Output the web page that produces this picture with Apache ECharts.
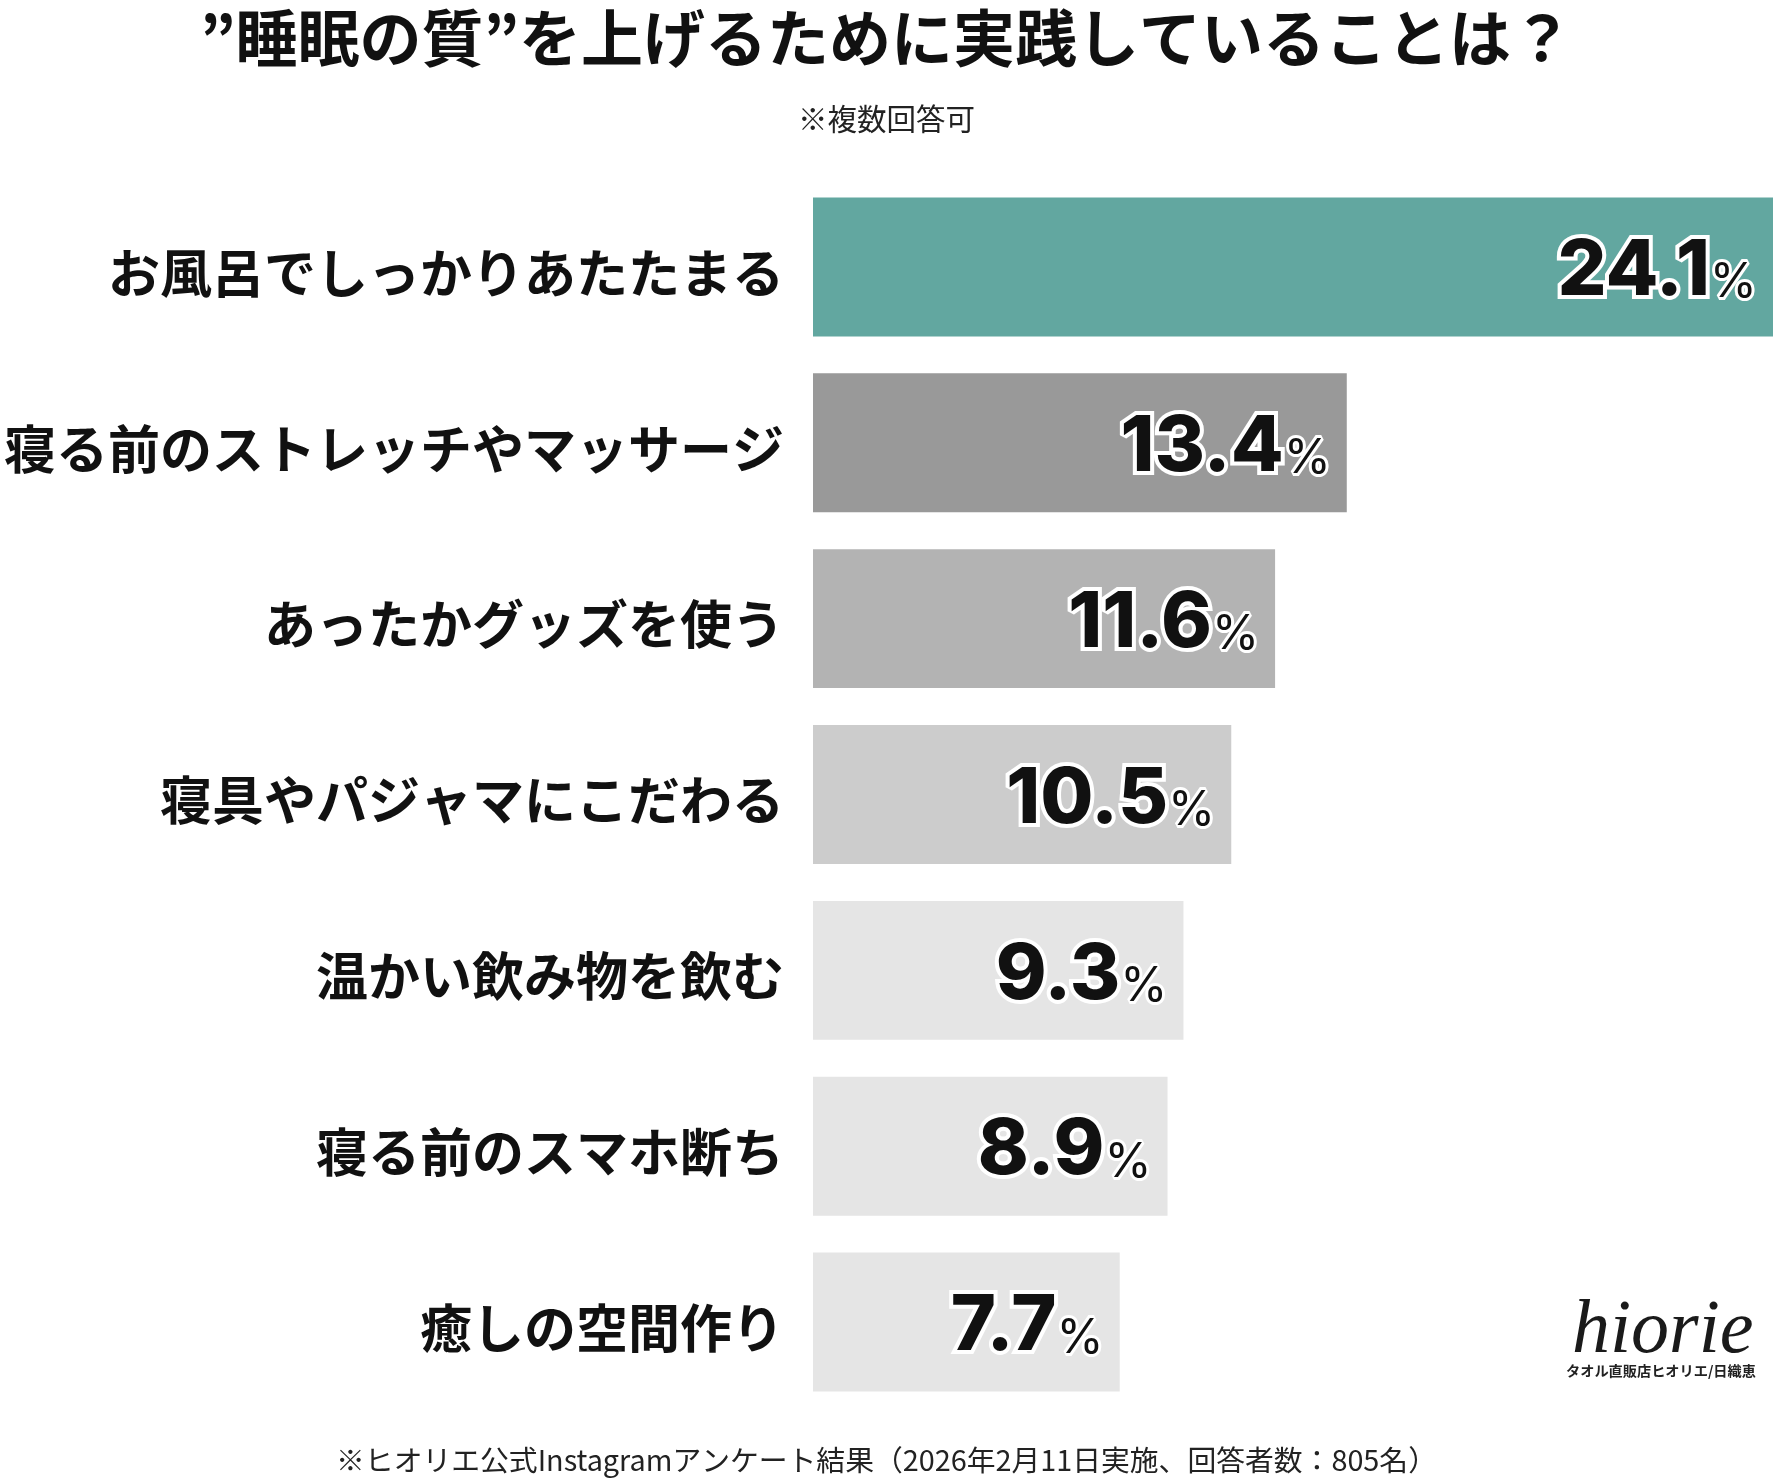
<!DOCTYPE html>
<html>
<head>
<meta charset="utf-8">
<script src="https://cdn.jsdelivr.net/npm/echarts@6/dist/echarts.min.js"></script>
<style>
html,body{margin:0;padding:0;background:#fff;}
#chart{width:1773px;height:1484px;}
</style>
</head>
<body>
<div id="chart"></div>
<script>
const categories = ['お風呂でしっかりあたたまる','寝る前のストレッチやマッサージ','あったかグッズを使う','寝具やパジャマにこだわる','温かい飲み物を飲む','寝る前のスマホ断ち','癒しの空間作り'];
const values = [24.1, 13.4, 11.6, 10.5, 9.3, 8.9, 7.7];
const barColors = ['#62a7a0','#999999','#b3b3b3','#cccccc','#e5e5e5','#e5e5e5','#e5e5e5'];
const titleText = '”睡眠の質”を上げるために実践していることは？';
const subText = '※複数回答可';
const footText = '※ヒオリエ公式Instagramアンケート結果（2026年2月11日実施、回答者数：805名）';

const JP = '"Noto Sans CJK JP", "Noto Sans", sans-serif';
const chart = echarts.init(document.getElementById('chart'), null, {renderer:'canvas'});
chart.setOption({
  backgroundColor:'#ffffff',
  animation:false,
  title:[
    {text:titleText, left:'center', top:2, textStyle:{fontFamily:JP, fontSize:62, fontWeight:'bold', color:'#111'}},
    {text:subText, left:'center', top:99, textStyle:{fontFamily:JP, fontSize:29.5, fontWeight:'normal', color:'#222'}},
    {text:footText, left:'center', top:1441, textStyle:{fontFamily:JP, fontSize:28.8, fontWeight:'normal', color:'#222'}}
  ],
  grid:{left:813, right:0, top:179, height:1231, containLabel:false},
  xAxis:{type:'value', min:0, max:24.1, show:false},
  yAxis:{type:'category', data:categories, inverse:true,
    axisLine:{show:false}, axisTick:{show:false}, splitLine:{show:false},
    axisLabel:{margin:29, formatter: v => '{a|' + v + '}',
      rich:{a:{fontFamily:JP, fontSize:52, fontWeight:'bold', color:'#111', lineHeight:60, padding:[12,0,0,0]}}}},
  series:[{
    type:'bar', barCategoryGap:'21%',
    data: values.map((v,i)=>({value:v, itemStyle:{color:barColors[i]}})),
    label:{show:true, position:'insideRight', distance:16, offset:[0,5],
      formatter: p => '{n|' + p.value.toFixed(1) + '}{p|%}',
      rich:{
        n:{fontFamily:'Inter, "Liberation Sans", sans-serif', fontSize:77, fontWeight:800, color:'#111', textBorderColor:'#fff', textBorderWidth:8, lineHeight:84},
        p:{fontFamily:'Inter, "Liberation Sans", sans-serif', fontSize:48, fontWeight:400, color:'#111', textBorderColor:'#fff', textBorderWidth:6, lineHeight:50, verticalAlign:'bottom', padding:[0,0,7,0]}
      }
    }
  }],
  graphic:[
    {type:'text', left:1572, top:1294, style:{text:'hiorie', font:'italic 76px "Liberation Serif", serif', fill:'#1a1a1a'}},
    {type:'text', left:1566, top:1364, style:{text:'タオル直販店ヒオリエ/日織恵', font:'bold 14.2px "Noto Sans CJK JP", sans-serif', fill:'#222'}}
  ]
});
</script>
</body>
</html>
